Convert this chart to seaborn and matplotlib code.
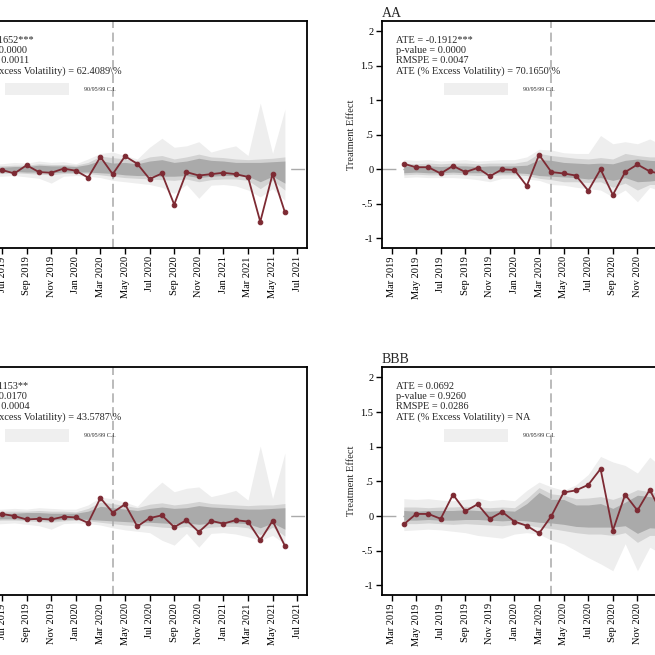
import matplotlib
matplotlib.use("Agg")
import matplotlib.pyplot as plt
from matplotlib.patches import Patch
import seaborn as sns
import pandas as pd

# months since Mar 2019 (1 = Apr 2019 ... 27 = Jun 2021)
months = list(range(1, 28))
treat_month = 13  # Apr 2020
tick_pos = list(range(0, 29, 2))
tick_labels = ['Mar 2019', 'May 2019', 'Jul 2019', 'Sep 2019', 'Nov 2019', 'Jan 2020',
               'Mar 2020', 'May 2020', 'Jul 2020', 'Sep 2020', 'Nov 2020', 'Jan 2021',
               'Mar 2021', 'May 2021', 'Jul 2021']
ytick_vals = [-1, -0.5, 0, 0.5, 1, 1.5, 2]
ytick_labels = ['-1', '-.5', '0', '.5', '1', '1.5', '2']

# top left
aaa_effect = [0.03, -0.02, 0.01, -0.01, -0.06, 0.06, -0.04, -0.05, 0.01, -0.02, -0.12, 0.18, -0.07,
              0.19, 0.08, -0.14, -0.06, -0.51, -0.04, -0.09, -0.07, -0.05, -0.07, -0.11, -0.76, -0.07, -0.62]
aaa_hi99 = [.08, .09, .08, .08, .10, .09, .12, .10, .11, .08, .15, .23, .25, .20, .15, .32, .45, .32, .34,
            .40, .25, .30, .34, .20, .96, .23, .87]
aaa_hi95 = [.05, .06, .05, .05, .06, .06, .08, .07, .07, .06, .10, .19, .17, .15, .12, .18, .20, .15, .18,
            .22, .18, .17, .15, .14, .15, .16, .18]
aaa_hi90 = [.03, .04, .03, .03, .04, .04, .06, .05, .05, .04, .07, .13, .09, .10, .08, .12, .14, .10, .12,
            .16, .13, .12, .10, .10, .10, .11, .12]
aaa_lo90 = [-.03, -.03, -.04, -.04, -.03, -.04, -.04, -.05, -.04, -.04, -.04, -.05, -.06, -.08, -.09, -.09,
            -.10, -.10, -.09, -.12, -.10, -.09, -.09, -.10, -.18, -.10, -.20]
aaa_lo95 = [-.05, -.05, -.06, -.06, -.05, -.06, -.07, -.08, -.06, -.06, -.06, -.08, -.10, -.12, -.13, -.14,
            -.15, -.16, -.14, -.18, -.15, -.14, -.14, -.16, -.28, -.16, -.30]
aaa_lo99 = [-.09, -.10, -.10, -.10, -.09, -.11, -.13, -.20, -.10, -.09, -.10, -.12, -.16, -.18, -.20, -.22,
            -.26, -.35, -.22, -.42, -.23, -.22, -.24, -.30, -.40, -.28, -.45]
aaa_stats = ['ATE = -0.1652***', 'p-value = 0.0000', 'RMSPE = 0.0011',
             'ATE (% Excess Volatility) = 62.4089\\%']

# top right
aa_effect = [0.08, 0.03, 0.03, -0.06, 0.05, -0.04, 0.02, -0.10, 0.0, -0.01, -0.24, 0.21, -0.04,
             -0.06, -0.09, -0.31, 0.0, -0.37, -0.04, 0.07, -0.03, -0.07, -0.12, -0.28, 0.05, -0.18, -0.10]
aa_hi99 = [.14, .13, .14, .12, .13, .14, .12, .13, .14, .14, .18, .29, .28, .24, .23, .23, .49, .37, .40,
           .37, .44, .35, .30, .40, .45, .35, .40]
aa_hi95 = [.09, .08, .09, .08, .09, .09, .08, .09, .09, .09, .12, .23, .20, .18, .16, .15, .17, .15, .23,
           .20, .18, .18, .17, .18, .20, .18, .18]
aa_hi90 = [.05, .05, .05, .04, .05, .05, .04, .05, .05, .05, .06, .14, .13, .10, .09, .08, .09, .08, .13,
           .15, .13, .12, .11, .12, .13, .12, .12]
aa_lo90 = [-.05, -.04, -.05, -.05, -.04, -.05, -.05, -.05, -.05, -.05, -.06, -.09, -.10, -.11, -.12, -.14,
           -.12, -.16, -.12, -.18, -.17, -.15, -.15, -.16, -.18, -.16, -.17]
aa_lo95 = [-.08, -.07, -.08, -.08, -.07, -.08, -.09, -.09, -.08, -.08, -.09, -.13, -.15, -.18, -.18, -.19,
           -.18, -.26, -.20, -.30, -.22, -.22, -.22, -.24, -.25, -.23, -.25]
aa_lo99 = [-.12, -.11, -.12, -.12, -.12, -.13, -.15, -.18, -.13, -.13, -.14, -.16, -.22, -.23, -.26, -.28,
           -.30, -.40, -.30, -.47, -.26, -.32, -.30, -.35, -.38, -.33, -.36]
aa_stats = ['ATE = -0.1912***', 'p-value = 0.0000', 'RMSPE = 0.0047',
            'ATE (% Excess Volatility) = 70.1650\\%']

# bottom left
a_effect = [0.02, -0.01, 0.03, 0.03, 0.0, -0.05, -0.04, -0.05, -0.01, -0.02, -0.10, 0.26, 0.05,
            0.17, -0.15, -0.03, 0.01, -0.16, -0.06, -0.23, -0.07, -0.11, -0.06, -0.08, -0.35, -0.07, -0.43]
a_hi99 = [.10, .10, .09, .10, .11, .10, .12, .11, .10, .10, .16, .27, .25, .20, .14, .33, .49, .35, .40,
          .42, .28, .32, .37, .23, 1.01, .25, .91]
a_hi95 = [.07, .06, .06, .07, .07, .07, .08, .07, .07, .06, .11, .20, .18, .15, .12, .17, .19, .16, .18,
          .21, .18, .17, .16, .15, .16, .16, .18]
a_hi90 = [.04, .04, .04, .04, .04, .05, .05, .04, .04, .04, .07, .14, .12, .10, .08, .11, .13, .11, .12,
          .15, .13, .12, .11, .10, .10, .11, .12]
a_lo90 = [-.04, -.04, -.05, -.04, -.04, -.05, -.05, -.06, -.05, -.04, -.05, -.06, -.07, -.08, -.09, -.09,
          -.10, -.11, -.10, -.12, -.10, -.10, -.10, -.11, -.17, -.10, -.19]
a_lo95 = [-.06, -.06, -.07, -.06, -.06, -.07, -.08, -.09, -.07, -.06, -.07, -.09, -.11, -.13, -.14, -.14,
          -.16, -.17, -.15, -.19, -.16, -.15, -.15, -.17, -.27, -.16, -.29]
a_lo99 = [-.10, -.11, -.12, -.11, -.10, -.12, -.14, -.19, -.11, -.10, -.11, -.13, -.17, -.20, -.22, -.24,
          -.35, -.42, -.25, -.45, -.25, -.24, -.26, -.30, -.35, -.28, -.40]
a_stats = ['ATE = -0.1153**', 'p-value = 0.0170', 'RMSPE = 0.0004',
           'ATE (% Excess Volatility) = 43.5787\\%']

# bottom right
bbb_effect = [-0.12, 0.03, 0.03, -0.04, 0.31, 0.07, 0.17, -0.04, 0.06, -0.08, -0.14, -0.25, 0.0,
              0.34, 0.37, 0.45, 0.68, -0.21, 0.31, 0.08, 0.38, 0.03, 0.25, 0.10, -0.10, 0.20, 0.05]
bbb_hi99 = [.25, .24, .25, .23, .22, .24, .26, .22, .24, .22, .37, .49, .42, .37, .45, .60, .86, .78, .73,
            .62, .85, .70, .65, .75, .70, .68, .72]
bbb_hi95 = [.13, .13, .12, .13, .13, .14, .13, .12, .13, .12, .25, .41, .32, .30, .25, .26, .28, .24, .30,
            .38, .35, .32, .30, .33, .32, .30, .31]
bbb_hi90 = [.08, .07, .08, .08, .08, .09, .08, .07, .08, .07, .18, .34, .24, .24, .16, .16, .18, .11, .20,
            .30, .28, .25, .23, .26, .24, .23, .24]
bbb_lo90 = [-.06, -.06, -.05, -.06, -.06, -.05, -.05, -.06, -.07, -.06, -.07, -.09, -.10, -.12, -.15, -.16,
            -.16, -.16, -.14, -.25, -.17, -.18, -.16, -.18, -.19, -.17, -.18]
bbb_lo95 = [-.11, -.11, -.10, -.11, -.12, -.11, -.12, -.13, -.14, -.12, -.13, -.16, -.18, -.21, -.24, -.26,
            -.26, -.28, -.24, -.38, -.28, -.28, -.26, -.30, -.30, -.28, -.30]
bbb_lo99 = [-.21, -.20, -.19, -.20, -.22, -.24, -.28, -.30, -.32, -.26, -.24, -.26, -.35, -.40, -.50, -.60,
            -.69, -.79, -.40, -.79, -.45, -.55, -.50, -.60, -.65, -.55, -.60]
bbb_stats = ['ATE = 0.0692', 'p-value = 0.9260', 'RMSPE = 0.0286',
             'ATE (% Excess Volatility) = NA']

sns.set_style('ticks')
plt.rcParams['font.family'] = ['Liberation Serif', 'DejaVu Serif']

line_color = '#7d2a33'
band_colors = ['#eeeeee', '#d3d3d3', '#aaaaaa']

panels = [
    ('', [-0.087, 0.6214, 0.5557, 0.3466], aaa_effect,
     [(aaa_lo99, aaa_hi99), (aaa_lo95, aaa_hi95), (aaa_lo90, aaa_hi90)], aaa_stats),
    ('AA', [0.5827, 0.6214, 0.5557, 0.3466], aa_effect,
     [(aa_lo99, aa_hi99), (aa_lo95, aa_hi95), (aa_lo90, aa_hi90)], aa_stats),
    ('', [-0.087, 0.0916, 0.5557, 0.348], a_effect,
     [(a_lo99, a_hi99), (a_lo95, a_hi95), (a_lo90, a_hi90)], a_stats),
    ('BBB', [0.5827, 0.0916, 0.5557, 0.348], bbb_effect,
     [(bbb_lo99, bbb_hi99), (bbb_lo95, bbb_hi95), (bbb_lo90, bbb_hi90)], bbb_stats),
]

fig = plt.figure(figsize=(6.55, 6.55), dpi=100)

for title, pos, effect, bands, stats in panels:
    ax = fig.add_axes(pos)
    df = pd.DataFrame({'month': months, 'effect': effect})

    # placebo bands, widest first
    for (lo, hi), col in zip(bands, band_colors):
        ax.fill_between(months, lo, hi, color=col, linewidth=0, zorder=1)

    ax.axhline(0, color='#aaaaaa', lw=1, dashes=(10, 5), zorder=2)
    ax.axvline(treat_month, color='#a8a8a8', lw=1.1, dashes=(6, 3), zorder=2)

    sns.lineplot(data=df, x='month', y='effect', ax=ax, color=line_color, lw=1.3,
                 marker='o', markersize=3.3, markeredgecolor=line_color, zorder=3)

    ax.set_xlim(-0.8, 28.8)
    ax.set_ylim(-1.14, 2.15)
    ax.set_xticks(tick_pos)
    ax.set_xticklabels(tick_labels, rotation=90, fontsize=7.5)
    ax.set_yticks(ytick_vals)
    ax.set_yticklabels(ytick_labels, fontsize=7.5)
    ax.set_xlabel('')
    ax.set_ylabel('Treatment Effect', fontsize=7.5, labelpad=3)
    ax.tick_params(direction='out', length=4, width=1, colors='black', pad=2)
    for sp in ax.spines.values():
        sp.set_visible(True)
        sp.set_linewidth(1.3)
        sp.set_color('black')

    if title:
        ax.set_title(title, loc='left', fontsize=10, pad=3)

    ax.text(0.039, 0.935, '\n'.join(stats), transform=ax.transAxes, ha='left', va='top',
            fontsize=7.4, linespacing=1.15)

    ax.legend(handles=[Patch(facecolor='#efefef', edgecolor='none', label='90/95/99 C.I.')],
              loc='center left', bbox_to_anchor=(0.171, 0.70), frameon=False, fontsize=4.3,
              handlelength=10.7, handleheight=2.85, handletextpad=2.5,
              borderpad=0, borderaxespad=0)

fig.savefig('out.png', dpi=100)
